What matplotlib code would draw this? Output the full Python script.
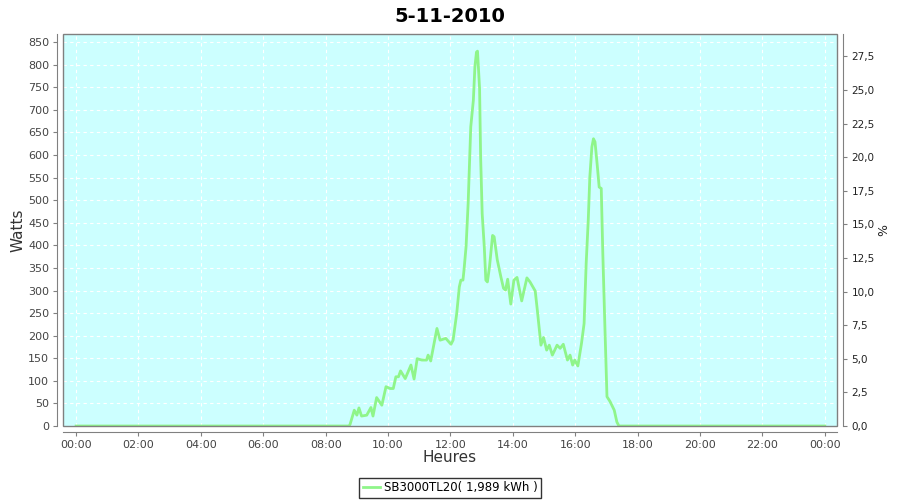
import matplotlib
matplotlib.use("Agg")
import matplotlib.pyplot as plt
from matplotlib.patches import Rectangle
from matplotlib.ticker import FuncFormatter, MultipleLocator
import numpy as np

# %%
# data (time of day, watts)
times = ["00:00", "08:45", "08:47", "08:55", "09:00", "09:04", "09:09", "09:19", "09:27",
         "09:31", "09:38", "09:48", "09:56", "10:04", "10:10", "10:15", "10:20", "10:24",
         "10:33", "10:44", "10:50", "10:56", "11:05", "11:14", "11:17", "11:22", "11:34",
         "11:40", "11:51", "12:01", "12:05", "12:12", "12:17", "12:20", "12:24", "12:26",
         "12:30", "12:34", "12:39", "12:44", "12:47", "12:50", "12:52", "12:56", "12:58",
         "13:01", "13:05", "13:08", "13:11", "13:15", "13:21", "13:24", "13:30", "13:37",
         "13:42", "13:46", "13:50", "13:56", "14:02", "14:08", "14:17", "14:27", "14:33",
         "14:43", "14:47", "14:54", "14:59", "15:05", "15:10", "15:16", "15:25", "15:31",
         "15:37", "15:45", "15:50", "15:55", "15:59", "16:05", "16:12", "16:17", "16:21",
         "16:25", "16:28", "16:32", "16:35", "16:38", "16:42", "16:46", "16:50", "16:53",
         "16:57", "17:01", "17:07", "17:15", "17:20", "17:24", "24:00"]
watts = [0, 0, 4, 35, 24, 40, 22, 24, 41,
         22, 63, 46, 87, 83, 83, 109, 109, 122,
         105, 135, 104, 149, 146, 146, 157, 144, 216,
         190, 194, 181, 190, 249, 308, 323, 323, 345,
         397, 493, 662, 721, 795, 828, 830, 747, 596,
         470, 397, 323, 319, 352, 422, 419, 368, 330,
         305, 301, 325, 270, 323, 329, 277, 328, 319,
         299, 257, 179, 196, 168, 179, 157, 179, 172,
         181, 146, 157, 135, 146, 133, 183, 227, 360,
         456, 551, 618, 636, 629, 581, 529, 526, 382,
         220, 65, 54, 35, 9, 0, 0]

title = "5-11-2010"
serie = "SB3000TL20( 1,989 kWh )"

hours = np.array([int(t[:2]) + int(t[3:]) / 60 for t in times])

# %%
fig = plt.figure(figsize=(9, 5), dpi=100)
ax = fig.add_axes([0.07, 0.148, 0.86, 0.784])
ax.set_facecolor("#ccffff")

ax.plot(hours, watts, color="#8ff58a", lw=2, label=serie, zorder=3)

ax.set_xlim(-0.42, 24.39)
ax.set_ylim(0, 868)
ax.xaxis.set_major_locator(MultipleLocator(2))
ax.xaxis.set_major_formatter(FuncFormatter(lambda v, p: "%02d:00" % (int(round(v)) % 24)))
ax.yaxis.set_major_locator(MultipleLocator(50))
ax.grid(True, color="white", ls=(0, (3, 3)), lw=0.8)

gris = "#808080"
for s in ["top", "right"]:
    ax.spines[s].set_visible(False)
for s in ["left", "bottom"]:
    ax.spines[s].set_position(("outward", 4))
    ax.spines[s].set_color(gris)
ax.add_patch(Rectangle((0, 0), 1, 1, transform=ax.transAxes, fill=False,
                       edgecolor=gris, lw=1, clip_on=False, zorder=4))
ax.tick_params(colors=gris, labelcolor="#444444", labelsize=8, length=3, pad=3)

ax.set_xlabel("Heures", fontsize=11, color="#333333", labelpad=0)
ax.set_ylabel("Watts", fontsize=11, color="#333333", labelpad=2)

# right axis in %
ax2 = ax.twinx()
ax2.set_ylim(0, 29.17)
ax2.yaxis.set_major_locator(MultipleLocator(2.5))
ax2.yaxis.set_major_formatter(FuncFormatter(lambda v, p: ("%.1f" % v).replace(".", ",")))
for s in ["top", "left", "bottom"]:
    ax2.spines[s].set_visible(False)
ax2.spines["right"].set_position(("outward", 4))
ax2.spines["right"].set_color(gris)
ax2.tick_params(colors=gris, labelcolor="#222222", labelsize=7.5, length=3)
ax2.set_ylabel("%", fontsize=9, color="#222222", labelpad=2)

fig.suptitle(title, fontsize=14, fontweight="bold", y=0.985)

leg = fig.legend(loc="center", bbox_to_anchor=(0.5, 0.024), frameon=True,
                 fancybox=False, fontsize=8.5, handlelength=1.5, handletextpad=0.3,
                 borderpad=0.3, borderaxespad=0)
leg.get_frame().set_edgecolor("black")
leg.get_frame().set_linewidth(1)

plt.savefig("out.png", dpi=100)
